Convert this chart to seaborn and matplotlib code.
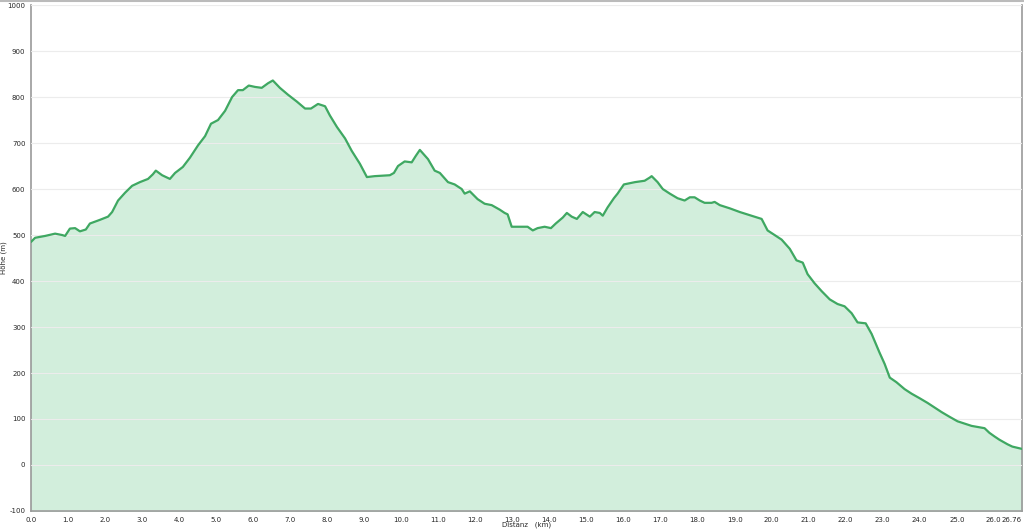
import numpy as np
import pandas as pd
import matplotlib
matplotlib.use("Agg")
import matplotlib.pyplot as plt
import seaborn as sb
from matplotlib.lines import Line2D

# elevation profile
distanz = [0.00, 0.11, 0.38, 0.65, 0.84, 0.92, 1.05, 1.19, 1.32, 1.48, 1.59, 1.86, 2.08, 2.19,
           2.35, 2.54, 2.73, 2.94, 3.16, 3.29, 3.37, 3.54, 3.75, 3.89, 4.10, 4.29, 4.51, 4.70,
           4.86, 5.05, 5.24, 5.43, 5.59, 5.72, 5.88, 6.05, 6.23, 6.40, 6.53, 6.72, 6.94, 7.18,
           7.40, 7.56, 7.75, 7.94, 8.07, 8.26, 8.48, 8.66, 8.88, 9.07, 9.28, 9.69, 9.80, 9.91,
           10.09, 10.28, 10.39, 10.50, 10.72, 10.90, 11.04, 11.26, 11.44, 11.63, 11.71, 11.85,
           12.06, 12.25, 12.44, 12.66, 12.79, 12.87, 12.98, 13.20, 13.41, 13.55, 13.68, 13.87,
           14.04, 14.17, 14.36, 14.47, 14.60, 14.74, 14.90, 15.09, 15.22, 15.36, 15.44, 15.57,
           15.74, 15.84, 16.01, 16.31, 16.57, 16.71, 16.76, 16.92, 17.06, 17.25, 17.46, 17.65,
           17.79, 17.92, 18.06, 18.19, 18.38, 18.46, 18.60, 18.87, 19.14, 19.54, 19.73, 19.89,
           20.08, 20.27, 20.49, 20.67, 20.84, 20.97, 21.16, 21.35, 21.57, 21.78, 21.97, 22.16,
           22.32, 22.54, 22.70, 22.91, 23.05, 23.19, 23.37, 23.59, 23.78, 24.00, 24.21, 24.40,
           24.59, 24.80, 25.02, 25.21, 25.40, 25.75, 25.88, 26.02, 26.15, 26.37, 26.50, 26.76]
hoehe = [485, 494, 498, 503, 500, 498, 514, 515, 508, 512, 525, 533, 540, 550,
         575, 592, 607, 615, 622, 632, 640, 630, 622, 635, 648, 668, 695, 715,
         742, 750, 770, 800, 815, 815, 825, 822, 820, 830, 836, 820, 805, 790,
         775, 775, 785, 780, 760, 735, 710, 683, 655, 626, 628, 630, 635, 650,
         660, 658, 672, 685, 665, 640, 635, 615, 610, 600, 590, 595,
         578, 568, 565, 555, 548, 545, 518, 518, 518, 510, 515, 518,
         515, 525, 538, 548, 540, 535, 550, 540, 550, 548, 542, 560,
         580, 590, 610, 615, 618, 625, 628, 615, 600, 590, 580, 575,
         582, 582, 575, 570, 570, 572, 565, 558, 550, 540, 535, 510,
         500, 490, 470, 445, 440, 415, 395, 378, 360, 350, 345, 330,
         310, 308, 285, 245, 220, 190, 180, 165, 155, 145, 135, 125,
         115, 105, 95, 90, 85, 80, 70, 62, 55, 45, 40, 35]

x_ticks = list(range(0, 27)) + [26.76]
x_labels = ["%.1f" % t for t in range(0, 27)] + ["26.76"]
y_ticks = list(range(-100, 1001, 100))

data = pd.DataFrame({"Distanz": distanz, "Hoehe": hoehe})

sb.set_style("white")
fig = plt.figure(figsize=(10.24, 5.32), dpi=100)
ax = fig.add_axes([0.0303, 0.0395, 0.9677, 0.951])

ax.fill_between(data["Distanz"], data["Hoehe"], -100, color="#d2eedc", zorder=1)
sb.lineplot(data=data, x="Distanz", y="Hoehe", ax=ax, color="#3fa862", linewidth=1.6, zorder=3)

ax.set_xlim(0, 26.76)
ax.set_ylim(-100, 1000)
ax.set_xticks(x_ticks)
ax.set_xticklabels(x_labels, fontsize=5)
ax.get_xticklabels()[-1].set_horizontalalignment("right")
ax.set_yticks(y_ticks)
ax.set_yticklabels([str(t) for t in y_ticks], fontsize=5)
ax.tick_params(axis="both", length=2, width=0.6, color="#999999", pad=2)
ax.yaxis.grid(True, color="#ececec", linewidth=0.8, zorder=0)
ax.set_axisbelow(False)
for side in ["left", "bottom", "right"]:
    ax.spines[side].set_color("#999999")
    ax.spines[side].set_linewidth(1.2)
ax.spines["top"].set_visible(False)
ax.set_xlabel("Distanz   (km)", fontsize=5, labelpad=-1)
ax.set_ylabel("Höhe (m)", fontsize=5)
ax.yaxis.set_label_coords(-0.024, 0.5)

fig.add_artist(Line2D([0, 1], [0.998, 0.998], color="#bbbbbb", linewidth=1.5, transform=fig.transFigure))

plt.savefig("out.png", dpi=100)
